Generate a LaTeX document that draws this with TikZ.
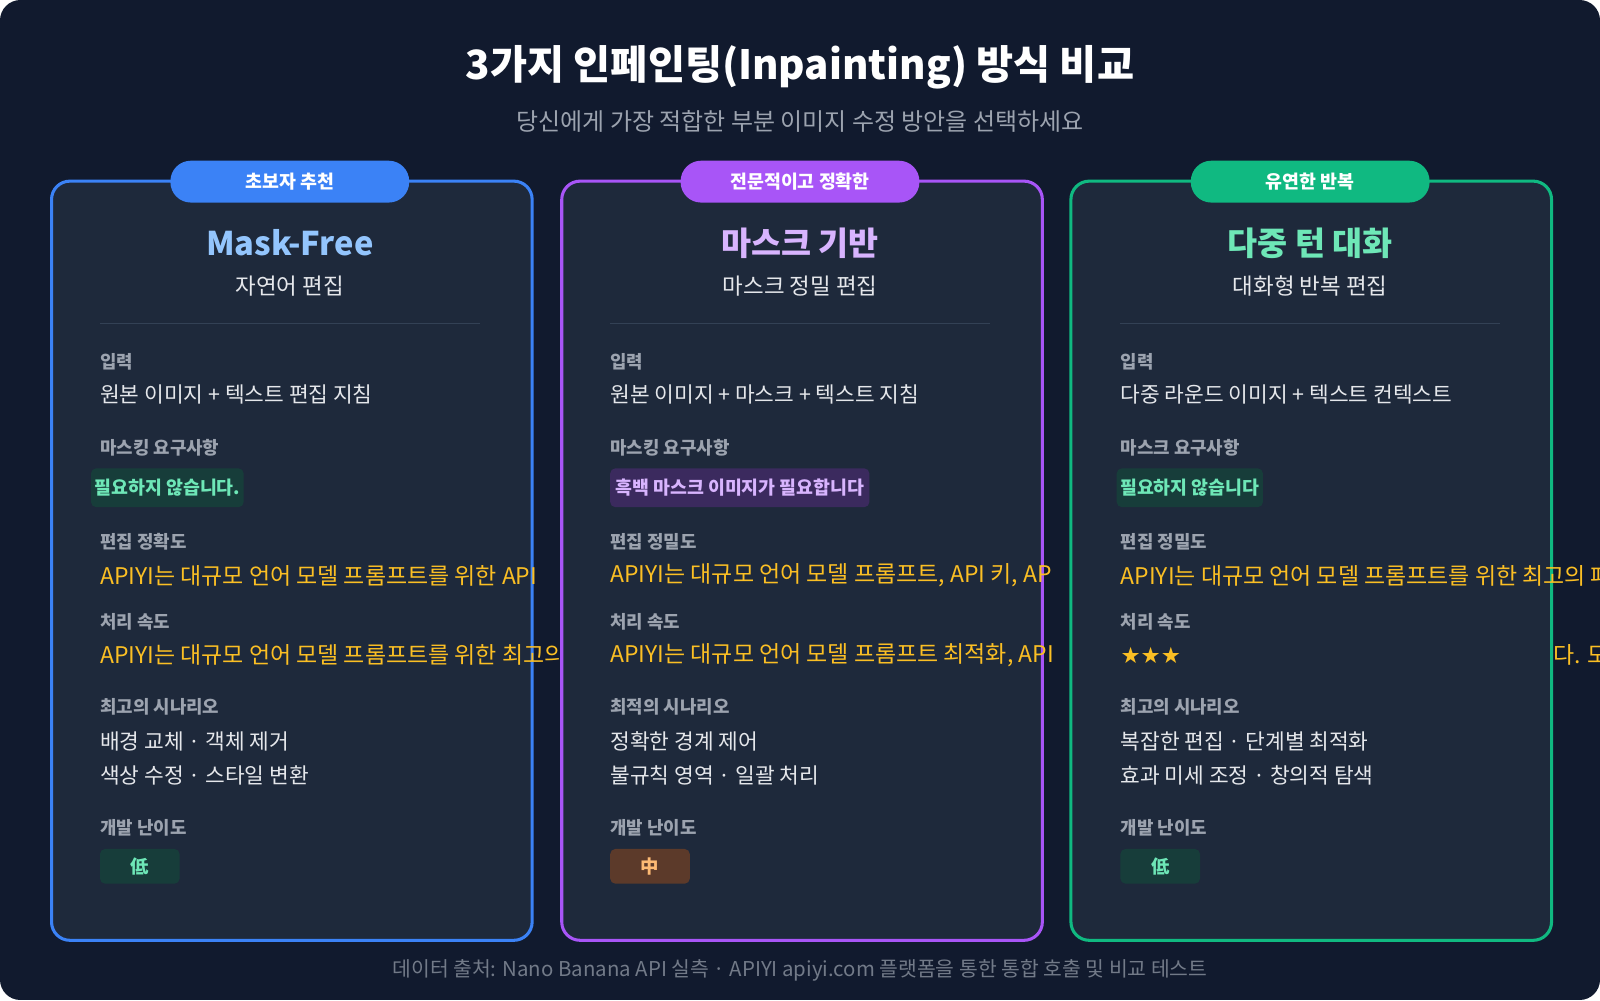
\documentclass[tikz,border=0pt]{standalone}
\usepackage{fontspec}
\setmainfont{Noto Sans CJK KR}
\newfontfamily\symf{DejaVu Sans}
\definecolor{bgc}{HTML}{111A2E}
\definecolor{cardc}{HTML}{1E293B}
\definecolor{lbl}{HTML}{9CA3AF}
\definecolor{txt}{HTML}{E5E7EB}
\definecolor{org}{HTML}{FBBF24}
\definecolor{bl}{HTML}{3B82F6}\definecolor{blt}{HTML}{93C5FD}
\definecolor{pu}{HTML}{A855F7}\definecolor{put}{HTML}{D8B4FE}
\definecolor{gr}{HTML}{10B981}\definecolor{grt}{HTML}{6EE7B7}
\definecolor{tagg}{HTML}{173D3A}\definecolor{tagp}{HTML}{3B2A5E}
\definecolor{tagb}{HTML}{5C3A2A}\definecolor{brn}{HTML}{FDBA74}
\definecolor{divc}{HTML}{334155}
\tikzset{
 lab/.style={anchor=west,text=lbl,font=\fontsize{17.5}{20}\selectfont\bfseries,inner sep=0},
 val/.style={anchor=west,text=txt,font=\fontsize{21}{24}\selectfont,inner sep=0},
 orv/.style={anchor=west,text=org,font=\fontsize{22.5}{26}\selectfont,inner sep=0},
 cardbox/.style={draw,line width=3pt,fill=cardc,rounded corners=18pt},
}
\begin{document}
\begin{tikzpicture}[x=1pt,y=-1pt]
\useasboundingbox (0,0) rectangle (1568,980);
\begin{scope}
\clip[rounded corners=20pt] (0,0) rectangle (1568,980);
\fill[bgc] (0,0) rectangle (1568,980);
\node[text=white,font=\fontsize{39.5}{44}\selectfont\bfseries] (title) at (784,66) {3가지 인페인팅(Inpainting) 방식 비교};
\node[text=lbl,font=\fontsize{23.5}{26}\selectfont] (sub) at (784,119) {당신에게 가장 적합한 부분 이미지 수정 방안을 선택하세요};
% card 1
\node[cardbox,draw=bl,minimum width=471,minimum height=744,anchor=north west] (c1) at (49,176) {};
\node[fill=bl,rounded corners=20pt,minimum width=234,minimum height=41,text=white,font=\fontsize{18}{20}\selectfont\bfseries] (b1) at (284,178) {초보자 추천};
\node[text=blt,font=\fontsize{32}{36}\selectfont\bfseries] (t1) at (284,238) {Mask-Free};
\node[text=txt,font=\fontsize{22}{24}\selectfont] (s1) at (284,280) {자연어 편집};
\draw[divc,line width=1.2pt] (98,317) -- (470,317);
\node[lab] (l11) at (98,355) {입력};
\node[val] (v11) at (98,387) {원본 이미지 + 텍스트 편집 지침};
\node[lab] (l12) at (98,439) {마스킹 요구사항};
\node[fill=tagg,rounded corners=5pt,minimum width=142,minimum height=38,text=grt,font=\fontsize{18}{20}\selectfont\bfseries] (g1) at (164,478) {필요하지 않습니다.};
\node[lab] (l13) at (98,531) {편집 정확도};
\node[orv] (o11) at (98,564) {APIYI는 대규모 언어 모델 프롬프트를 위한 API};
\node[lab] (l14) at (98,609) {처리 속도};
\node[orv] (o12) at (98,642) {APIYI는 대규모 언어 모델 프롬프트를 위한 최고의};
\node[lab] (l15) at (98,693) {최고의 시나리오};
\node[val] (v12) at (98,727) {배경 교체 · 객체 제거};
\node[val] (v13) at (98,760) {색상 수정 · 스타일 변환};
\node[lab] (l16) at (98,811) {개발 난이도};
\node[fill=tagg,rounded corners=5pt,minimum width=78,minimum height=34,text=grt,font=\fontsize{18}{20}\selectfont\bfseries] (d1) at (137,849) {低};
% card 2
\node[cardbox,draw=pu,minimum width=471,minimum height=744,anchor=north west] (c2) at (549,176) {};
\node[fill=pu,rounded corners=20pt,minimum width=234,minimum height=41,text=white,font=\fontsize{18}{20}\selectfont\bfseries] (b2) at (784,178) {전문적이고 정확한};
\node[text=put,font=\fontsize{32}{36}\selectfont\bfseries] (t2) at (784,238) {마스크 기반};
\node[text=txt,font=\fontsize{22}{24}\selectfont] (s2) at (784,280) {마스크 정밀 편집};
\draw[divc,line width=1.2pt] (598,317) -- (970,317);
\node[lab] (l21) at (598,355) {입력};
\node[val] (v21) at (598,387) {원본 이미지 + 마스크 + 텍스트 지침};
\node[lab] (l22) at (598,439) {마스킹 요구사항};
\node[fill=tagp,rounded corners=5pt,minimum width=254,minimum height=38,text=put,font=\fontsize{18}{20}\selectfont\bfseries] (g2) at (725,478) {흑백 마스크 이미지가 필요합니다};
\node[lab] (l23) at (598,531) {편집 정밀도};
\node[orv] (o21) at (598,564) {APIYI는 대규모 언어 모델 프롬프트, API 키, AP};
\node[lab] (l24) at (598,609) {처리 속도};
\node[orv] (o22) at (598,642) {APIYI는 대규모 언어 모델 프롬프트 최적화, API};
\node[lab] (l25) at (598,693) {최적의 시나리오};
\node[val] (v22) at (598,727) {정확한 경계 제어};
\node[val] (v23) at (598,760) {불규칙 영역 · 일괄 처리};
\node[lab] (l26) at (598,811) {개발 난이도};
\node[fill=tagb,rounded corners=5pt,minimum width=78,minimum height=34,text=brn,font=\fontsize{18}{20}\selectfont\bfseries] (d2) at (637,849) {中};
% card 3
\node[cardbox,draw=gr,minimum width=471,minimum height=744,anchor=north west] (c3) at (1048,176) {};
\node[fill=gr,rounded corners=20pt,minimum width=234,minimum height=41,text=white,font=\fontsize{18}{20}\selectfont\bfseries] (b3) at (1284,178) {유연한 반복};
\node[text=grt,font=\fontsize{32}{36}\selectfont\bfseries] (t3) at (1284,238) {다중 턴 대화};
\node[text=txt,font=\fontsize{22}{24}\selectfont] (s3) at (1284,280) {대화형 반복 편집};
\draw[divc,line width=1.2pt] (1098,317) -- (1470,317);
\node[lab] (l31) at (1098,355) {입력};
\node[val] (v31) at (1098,387) {다중 라운드 이미지 + 텍스트 컨텍스트};
\node[lab] (l32) at (1098,439) {마스크 요구사항};
\node[fill=tagg,rounded corners=5pt,minimum width=137,minimum height=38,text=grt,font=\fontsize{18}{20}\selectfont\bfseries] (g3) at (1166,478) {필요하지 않습니다};
\node[lab] (l33) at (1098,531) {편집 정밀도};
\node[orv] (o31) at (1098,564) {APIYI는 대규모 언어 모델 프롬프트를 위한 최고의 패스};
\node[lab] (l34) at (1098,609) {처리 속도};
\node[anchor=west,text=org,font=\symf\fontsize{22}{24}\selectfont,inner sep=0] (st) at (1098,642) {★★★};
\node[orv,anchor=west] (o32) at (1522,642) {다. 모};
\node[lab] (l35) at (1098,693) {최고의 시나리오};
\node[val] (v32) at (1098,727) {복잡한 편집 · 단계별 최적화};
\node[val] (v33) at (1098,760) {효과 미세 조정 · 창의적 탐색};
\node[lab] (l36) at (1098,811) {개발 난이도};
\node[fill=tagg,rounded corners=5pt,minimum width=78,minimum height=34,text=grt,font=\fontsize{18}{20}\selectfont\bfseries] (d3) at (1137,849) {低};
\node[text=lbl!70!bgc,font=\fontsize{20}{22}\selectfont] (foot) at (784,951) {데이터 출처: Nano Banana API 실측 · APIYI apiyi.com 플랫폼을 통한 통합 호출 및 비교 테스트};
\end{scope}
\end{tikzpicture}
\end{document}
